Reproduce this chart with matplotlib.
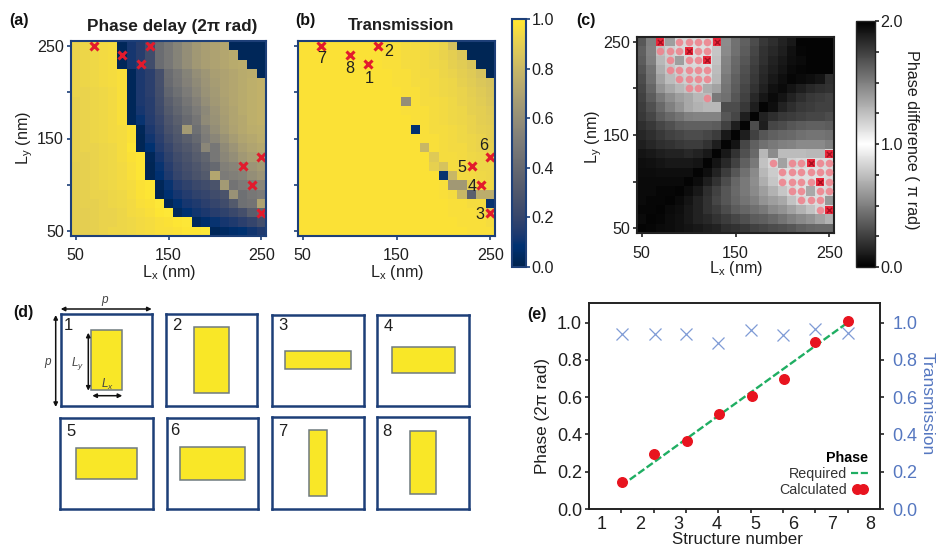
import numpy as np
import matplotlib
matplotlib.use("Agg")
import matplotlib.pyplot as plt
from matplotlib.colors import LinearSegmentedColormap
from matplotlib.lines import Line2D
from matplotlib.legend_handler import HandlerLine2D
from matplotlib.patches import Rectangle

plt.rcParams['font.family'] = ['Liberation Sans', 'DejaVu Sans']
plt.rcParams['mathtext.fontset'] = 'custom'
plt.rcParams['mathtext.rm'] = 'Liberation Sans'
plt.rcParams['mathtext.it'] = 'Liberation Sans:italic'
plt.rcParams['mathtext.bf'] = 'Liberation Sans:bold'

# ---------- data ----------
phase_delay = [
 [92,93,94,95,96, 3,12,16,24,42,48,54,60,65,68,70,72, 3, 3, 3, 3],
 [92,93,94,95,96, 3,12,16,24,42,48,54,60,65,68,70,72,74, 3, 3, 3],
 [92,93,94,95,96, 3,12,16,24,42,48,54,60,65,68,70,72,74,75, 3, 3],
 [92,93,94,95,96,97, 3,13,17,26,42,48,54,60,64,68,70,72,74,75, 3],
 [92,93,94,95,96,97, 3,13,17,26,41,47,53,58,63,67,70,72,74,76,77],
 [92,92,93,94,95,97, 3,13,17,25,38,44,50,56,62,66,70,72,74,76,77],
 [91,92,93,94,95,97, 3,13,16,24,34,40,47,53,60,65,69,72,74,76,77],
 [91,92,93,94,95,97, 3,12,16,23,32,38,44,50,57,63,68,71,74,76,77],
 [91,92,93,94,95,97, 3,10,15,21,29,35,41,47,58,62,67,71,73,76,77],
 [91,92,93,94,95,96,98, 3,13,19,27,32,66,44,52,60,66,70,73,75,76],
 [91,92,93,94,95,96,98, 2,11,17,24,30,35,40,50,56,62,67,71,73,75],
 [91,92,92,93,94,96,99, 2, 9,15,21,27,31,36,56,48,58,63,68,71,73],
 [91,91,92,93,94,96,98,99, 3,12,18,24,28,33,38,48,56,60,65,68,70],
 [90,91,92,93,94,95,97,99, 2,10,16,22,26,30,35,40,52,55,58,63,66],
 [90,91,92,93,94,95,97,99, 2, 8,14,20,24,28,32,72,50,52,54,60,63],
 [90,91,92,93,94,95,96,98,99, 3,10,15,18,22,24,28,66,46,50,52,56],
 [90,91,92,92,93,94,96,98,99, 2, 8,12,15,18,20,24,28,62,44,48,50],
 [90,91,91,92,93,94,95,97,98,100, 3, 8,12,14,17,20,24,32,44,46,70],
 [90,90,91,92,92,93,95,96,97,99,100, 4, 8,11,13,16,18,22,26,34,38],
 [90,90,91,92,92,93,94,95,96,97,98,99,100, 4, 7,10,12,14,17,20,25],
 [90,90,91,92,93,93,94,95,96,97,97,98,99,99,100, 3, 5, 7, 9,11,14],
]

transmission = [
 [98,98,98,98,98,98,98,98,98,97,97,96,95,95,94,92,84, 2, 2, 2, 2],
 [98,98,98,98,98,98,98,98,98,97,97,96,96,95,94,92,90,87, 2, 2, 2],
 [98,98,98,98,98,98,98,98,98,97,97,96,96,95,94,93,91,89,86, 2, 2],
 [98,98,98,98,98,98,98,98,98,98,97,97,96,95,95,93,92,90,88,85, 2],
 [98,98,98,98,98,98,98,98,98,98,97,97,96,96,95,94,93,91,89,87,85],
 [98,98,98,98,98,98,98,98,98,98,98,97,97,96,95,94,93,92,90,88,86],
 [98,98,98,98,98,98,98,98,98,98,98,60,97,96,96,95,94,92,91,89,87],
 [98,98,98,98,98,98,98,98,98,98,98,97,97,97,96,95,94,93,91,90,88],
 [98,98,98,98,98,98,98,98,98,98,98,98,97,97,96,95,94,93,92,90,89],
 [98,98,98,98,98,98,98,98,98,98,98,98, 8,97,96,96,95,94,92,91,90],
 [98,98,98,98,98,98,98,98,98,98,98,98,98,97,97,96,95,94,93,92,90],
 [98,98,98,98,98,98,98,98,98,98,98,98,98,80,97,96,95,95,93,92,91],
 [98,98,98,98,98,98,98,98,98,98,98,98,98,98,88,96,96,95,94,93,92],
 [98,98,98,98,98,98,98,98,98,98,98,98,98,98,91,85,96,95,94,93,93],
 [98,98,98,98,98,98,98,98,98,98,98,98,98,98,98,10,80,95,95,94,93],
 [98,98,98,98,98,98,98,98,98,98,98,98,98,98,98,97,65,65,90,95,94],
 [98,98,98,98,98,98,98,98,98,98,98,98,98,98,98,97,96,80,35,75,75],
 [98,98,98,98,98,98,98,98,98,98,98,98,98,98,98,98,97,97,96,96,10],
 [98,98,98,98,98,98,98,98,98,98,98,98,98,98,98,98,97,97,97,96,90],
 [98,98,98,98,98,98,98,98,98,98,98,98,98,98,98,98,98,97,97,97,96],
 [98,98,98,98,98,98,98,98,98,98,98,98,98,98,98,98,98,98,97,97,97],
]

phase_difference = [
 [35,50,75,62,85,85,86,86,80,55,45,38,30,22,18,14,10, 2, 2, 2, 2],
 [38,52,75,82,85,86,87,87,78,54,44,36,28,20,16,12, 7, 3, 2, 2, 2],
 [36,50,72,80,62,85,86,87,76,52,42,34,26,19,14,10, 6, 4, 2, 2, 2],
 [33,46,68,78,83,84,85,86,74,50,40,32,24,17,12, 8, 4, 3, 2, 2, 2],
 [30,44,64,74,79,82,83,84,72,48,38,30,22,15,10, 6, 3, 4, 6, 8,18],
 [28,40,58,66,72,77,80,68,64,46,36,28,20,13, 7, 4, 8,12,16,18,20],
 [26,36,48,56,62,66,72,74,48,44,34,26,16, 9, 4, 8,14,18,22,24,26],
 [24,32,42,50,58,66,70,72,72,30,30,22,12, 2, 6,14,18,22,24,26,26],
 [22,28,36,42,46,50,52,52,52,34,28,12, 2,14,18,22,24,26,28,28,30],
 [18,22,28,32,36,38,38,38,36,26,12, 2,30,12,28,30,34,36,38,38,36],
 [15,18,22,26,28,30,30,28,24,10, 2,12,26,34,38,40,42,44,46,46,44],
 [12,15,18,20,22,24,24,20,12, 2, 8,28,38,44,48,50,52,54,54,54,50],
 [ 8,10,12,14,14,16,14,10, 2,10,20,32,42,72,55,74,74,74,72,72,85],
 [ 6, 7, 8,10,10,10, 8, 2, 8,16,26,38,48,76,84,64,82,84,86,86,86],
 [ 5, 5, 6, 6, 6, 6, 2, 6,14,24,34,44,54,72,80,86,88,88,88,88,86],
 [ 4, 4, 4, 4, 4, 2, 5,12,20,30,40,48,56,68,78,86,88,88,88,88,86],
 [ 4, 4, 3, 3, 2, 5,10,18,26,34,42,48,54,62,70,78,84,88,66,86,85],
 [ 4, 3, 3, 2, 4, 8,14,20,28,34,40,46,50,58,62,66,76,84,86,86,60],
 [ 3, 3, 2, 4, 6,10,14,20,24,30,36,40,44,48,54,58,64,70,76,84,85],
 [ 4, 2, 3, 5, 7,10,14,16,20,24,28,32,36,38,42,46,50,54,58,64,70],
 [ 2, 3, 4, 5, 7, 8,10,12,14,18,20,22,26,28,30,32,34,38,40,42,42],
]

selected_lx = [120, 130, 250, 240, 230, 250, 70, 100]
selected_ly = [230, 250, 70, 100, 120, 130, 250, 240]
selected_names = ['1', '2', '3', '4', '5', '6', '7', '8']

candidate_lx = [70,90,100,110,120, 70,80,90,110,120, 80,100,110, 80,90,100,110,120,
                90,100,110,120, 100,110, 120,
                190,210,220,240,250, 200,210,220,230,240,250, 200,210,220,230,250,
                210,220,240,250, 220,230,240, 240]
candidate_ly = [250,250,250,250,250, 240,240,240,240,240, 230,230,230, 220,220,220,220,220,
                210,210,210,210, 200,200, 190,
                120,120,120,120,120, 110,110,110,110,110,110, 100,100,100,100,100,
                90,90,90,90, 80,80,80, 70]

structure_number = [1, 2, 3, 4, 5, 6, 7, 8]
required_phase = [0.125, 0.25, 0.375, 0.5, 0.625, 0.75, 0.875, 1.0]
calc_x = [1.02, 2.0, 3.02, 4.02, 5.03, 6.02, 6.98, 8.0]
calc_phase = [0.145, 0.295, 0.363, 0.51, 0.604, 0.696, 0.896, 1.009]
trans_x = [1.03, 2.03, 3.0, 3.99, 5.0, 6.0, 7.0, 8.02]
trans_values = [0.941, 0.941, 0.941, 0.893, 0.961, 0.934, 0.964, 0.946]
tick_label_values = [1, 2, 3, 4, 5, 6, 7, 8]
p_nm = 350

# ---------- helpers ----------
W, H = 936, 546
NAVY = '#1d3f78'
TXT = '#1f1f1f'
FS = 11.6
fig = plt.figure(figsize=(W / 100, H / 100), dpi=100, facecolor='white')


def box(x0, y0, x1, y1, **kw):
    return fig.add_axes([x0 / W, 1 - y1 / H, (x1 - x0) / W, (y1 - y0) / H], **kw)


def heat(pos, values, cmap, vmin, vmax, color, ylab):
    ax = box(*pos)
    im = ax.imshow(np.array(values) / 100.0, cmap=cmap, vmin=vmin, vmax=vmax,
                   extent=(45, 255, 45, 255), origin='upper', aspect='auto',
                   interpolation='nearest')
    ax.set_xticks([50, 150, 250])
    ax.set_yticks([50, 100, 150, 200, 250])
    ax.set_yticklabels(['50', '', '150', '', '250'] if ylab else [''] * 5)
    ax.tick_params(axis='both', length=3, width=1.2, color=color, labelsize=FS,
                   labelcolor=TXT)
    ax.tick_params(axis='x', pad=6)
    ax.tick_params(axis='y', pad=2)
    for s in ax.spines.values():
        s.set_color(color)
        s.set_linewidth(1.5)
    ax.set_xlabel(r'L$_{\mathrm{x}}$ (nm)', fontsize=FS, color=TXT, va='center')
    ax.xaxis.set_label_coords(0.5, -36 / (pos[3] - pos[1]))
    return ax, im


# ---------- (a) ----------
pos_a = (71, 41, 266, 236)
ax_a, im_a = heat(pos_a, phase_delay, 'cividis', 0, 1, NAVY, True)
ax_a.set_ylabel(r'L$_{\mathrm{y}}$ (nm)', fontsize=FS, color=TXT, va='center')
ax_a.yaxis.set_label_coords(-46 / 195, 0.5)
ax_a.plot(selected_lx, selected_ly, ls='none', marker='x', ms=5.8, mew=2.2, color='#e21b2d')

# ---------- (b) ----------
pos_b = (298, 41, 495, 236)
ax_b, im_b = heat(pos_b, transmission, 'cividis', 0, 1, NAVY, False)
ax_b.plot(selected_lx, selected_ly, ls='none', marker='x', ms=5.8, mew=2.2, color='#e21b2d')
name_off = [(1, -14), (11, -6), (-10, -2), (-9, -2), (-10, -1), (-7, 12), (0, -13), (0, -14)]
for lx, ly, n, (dx, dy) in zip(selected_lx, selected_ly, selected_names, name_off):
    ax_b.annotate(n, (lx, ly), xytext=(dx * 0.72, dy * 0.72), textcoords='offset points',
                  ha='center', va='center', fontsize=FS, color=TXT, annotation_clip=False)

cax_b = box(512, 19, 526, 267)
cb_b = fig.colorbar(im_b, cax=cax_b)
cb_b.set_ticks([0, 0.2, 0.4, 0.6, 0.8, 1.0])
cb_b.ax.set_yticklabels(['0.0', '0.2', '0.4', '0.6', '0.8', '1.0'])
cb_b.ax.tick_params(length=3, width=1.2, color=NAVY, labelsize=FS, labelcolor=TXT, pad=1)
cb_b.outline.set_edgecolor(NAVY)
cb_b.outline.set_linewidth(1.5)

# ---------- (c) ----------
bwb = LinearSegmentedColormap.from_list('bwb', ['black', 'white', 'black'])
pos_c = (637, 37, 834, 233)
ax_c, im_c = heat(pos_c, phase_difference, bwb, 0, 2, '#222222', True)
ax_c.set_ylabel(r'L$_{\mathrm{y}}$ (nm)', fontsize=FS, color=TXT, va='center')
ax_c.yaxis.set_label_coords(-43 / 197, 0.49)
ax_c.scatter(candidate_lx, candidate_ly, s=30, color='#ee858f', alpha=0.9, linewidths=0, zorder=3)
ax_c.scatter(selected_lx, selected_ly, s=34, marker='s', color='#e8273a', linewidths=0, zorder=4)
ax_c.scatter(selected_lx, selected_ly, s=14, marker='x', color='#a80f20', linewidths=1, zorder=5)

cax_c = box(856, 21, 875, 267)
cb_c = fig.colorbar(im_c, cax=cax_c)
cb_c.set_ticks([0, 1, 2])
cb_c.ax.set_yticklabels(['0.0', '1.0', '2.0'])
cb_c.ax.set_yticks(np.arange(0, 2.01, 0.25), minor=True)
cb_c.ax.tick_params(which='both', length=3, width=1.2, color='#222222', labelsize=FS,
                    labelcolor=TXT, pad=1)
cb_c.outline.set_edgecolor('#222222')
cb_c.outline.set_linewidth(1)

# ---------- (d) ----------
d_boxes = [(60.7, 314, 152.3, 405.7), (165.7, 314, 257.3, 405.7),
           (272, 315, 364, 405.7), (377.3, 315, 469.3, 405.7),
           (60.3, 418.3, 152.7, 508.7), (167, 418.3, 257.7, 508.7),
           (272, 417, 364, 508.7), (377.3, 417, 469.3, 508.7)]
for b, lx, ly in zip(d_boxes, selected_lx, selected_ly):
    a = box(*b)
    a.set_xlim(-p_nm / 2, p_nm / 2)
    a.set_ylim(-p_nm / 2, p_nm / 2)
    a.set_xticks([])
    a.set_yticks([])
    for s in a.spines.values():
        s.set_color(NAVY)
        s.set_linewidth(1.8)
    a.add_patch(Rectangle((-lx / 2, -ly / 2), lx, ly, facecolor='#f9e727',
                          edgecolor='#6f7a7f', linewidth=1.1))

# ---------- (e) ----------
ax_e = box(589, 303, 880, 509)
ax_e.set_xlim(0, 9)
ax_e.set_ylim(0, 1.105)
ax_e.plot(structure_number, required_phase, ls='--', lw=1.7, color='#1fae62', dashes=(3.2, 1.2), zorder=2)
ax_e.plot(calc_x, calc_phase, ls='none', marker='o', ms=6.9, color='#e8141f', zorder=3)
ax_e.set_xticks(structure_number)
ax_e.set_xticklabels([])
yt = [0, 0.2, 0.4, 0.6, 0.8, 1.0]
ax_e.set_yticks(yt)
ax_e.set_yticklabels(['%.1f' % v for v in yt])
ax_e.tick_params(axis='both', length=3, width=1.2, color='#222222', labelsize=13, labelcolor=TXT, pad=2)
ax_e.set_ylabel('Phase (2π rad)', fontsize=12.3, color=TXT, va='center')
ax_e.yaxis.set_label_coords(-47 / 291, 0.45)
for s in ax_e.spines.values():
    s.set_linewidth(1.4)
    s.set_color('#222222')

tw = ax_e.twinx()
tw.set_ylim(0, 1.105)
tw.plot(trans_x, trans_values, ls='none', marker='x', ms=8.5, mew=0.9, color='#7f9bd6', zorder=1)
tw.set_yticks(yt)
tw.set_yticklabels(['%.1f' % v for v in yt])
tw.tick_params(axis='y', length=3, width=1.2, color='#222222', labelsize=13, labelcolor='#5577c0', pad=6)
tw.set_ylabel('Transmission', fontsize=12.5, color='#5577c0', rotation=270, va='center')
tw.yaxis.set_label_coords(1 + 47 / 291, 0.51)
for s in tw.spines.values():
    s.set_visible(False)

lab = ax_e.twiny()
lab.set_xlim(0.66, 8.26)
lab.xaxis.set_ticks_position('bottom')
lab.xaxis.set_label_position('bottom')
lab.set_xticks(tick_label_values)
lab.set_xticklabels([str(v) for v in tick_label_values])
lab.tick_params(axis='x', length=0, labelsize=13, labelcolor=TXT, pad=5)
lab.set_xlabel('Structure number', fontsize=12.2, color=TXT, va='center')
lab.xaxis.set_label_coords(0.51, -30 / 206)
for s in lab.spines.values():
    s.set_visible(False)
lab.patch.set_visible(False)

h_req = Line2D([], [], ls='--', lw=1.6, color='#1fae62', dashes=(3.2, 1.2))
h_calc = Line2D([], [], ls='none', marker='o', ms=6.9, color='#e8141f')
leg = ax_e.legend([h_req, h_calc], ['Required', 'Calculated'], title='Phase',
                  handler_map={h_calc: HandlerLine2D(numpoints=2, marker_pad=0.4)},
                  markerfirst=False, frameon=False, fontsize=10.3, loc='lower right',
                  bbox_to_anchor=(0.96, 0.06), handlelength=1.2, handletextpad=0.3,
                  labelspacing=0.12, borderpad=0, borderaxespad=0, alignment='right')
leg.get_title().set_fontweight('bold')
leg.get_title().set_fontsize(10.3)
leg._legend_box.sep = 1.5
for t in leg.get_texts():
    t.set_color('#333333')
leg.set_zorder(6)
ax_e.set_zorder(tw.get_zorder() + 1)
ax_e.patch.set_visible(False)

# ---------- overlay text (pixel coordinates) ----------
ov = fig.add_axes([0, 0, 1, 1], zorder=20)
ov.set_xlim(0, W)
ov.set_ylim(H, 0)
ov.axis('off')


def label(x, y, s, **kw):
    kw.setdefault('ha', 'center')
    kw.setdefault('va', 'center')
    kw.setdefault('color', TXT)
    ov.text(x, y, s, **kw)


def arrow(x0, y0, x1, y1):
    ov.annotate('', xy=(x1, y1), xytext=(x0, y0),
                arrowprops=dict(arrowstyle='<|-|>', color='#111111', lw=1.1,
                                mutation_scale=6, shrinkA=0, shrinkB=0))


for x, y, s in [(19, 20, '(a)'), (305, 20, '(b)'), (586, 21, '(c)'), (23, 313, '(d)'), (537, 315, '(e)')]:
    label(x, y, s, fontsize=11.5, fontweight='bold', color='#111111')
label(172, 26, 'Phase delay (2π rad)', fontsize=12.4, fontweight='bold')
label(401, 26, 'Transmission', fontsize=12, fontweight='bold')
label(912, 140, 'Phase difference ( π rad)', fontsize=11.6, rotation=270)

num_pos = [(68, 326), (176.7, 326), (283, 326), (388, 326.7),
           (70.7, 431.7), (175, 430.7), (282.7, 431.7), (386.7, 431.7)]
for (x, y), n in zip(num_pos, selected_names):
    label(x, y, n, fontsize=12)
arrow(60.7, 309, 151.7, 309)
arrow(55.7, 315, 55.7, 407)
arrow(88.3, 332.7, 88.3, 390.7)
arrow(92.3, 395.7, 122.3, 395.7)
label(105, 300, 'p', fontsize=8.5, style='italic', color='#444444')
label(47.7, 362, 'p', fontsize=8.5, style='italic', color='#444444')
label(77.7, 363, r'$\mathit{L_y}$', fontsize=8.5, color='#444444')
label(107, 384, r'$\mathit{L_x}$', fontsize=8.5, color='#444444')

fig.savefig('out.png', dpi=100)
